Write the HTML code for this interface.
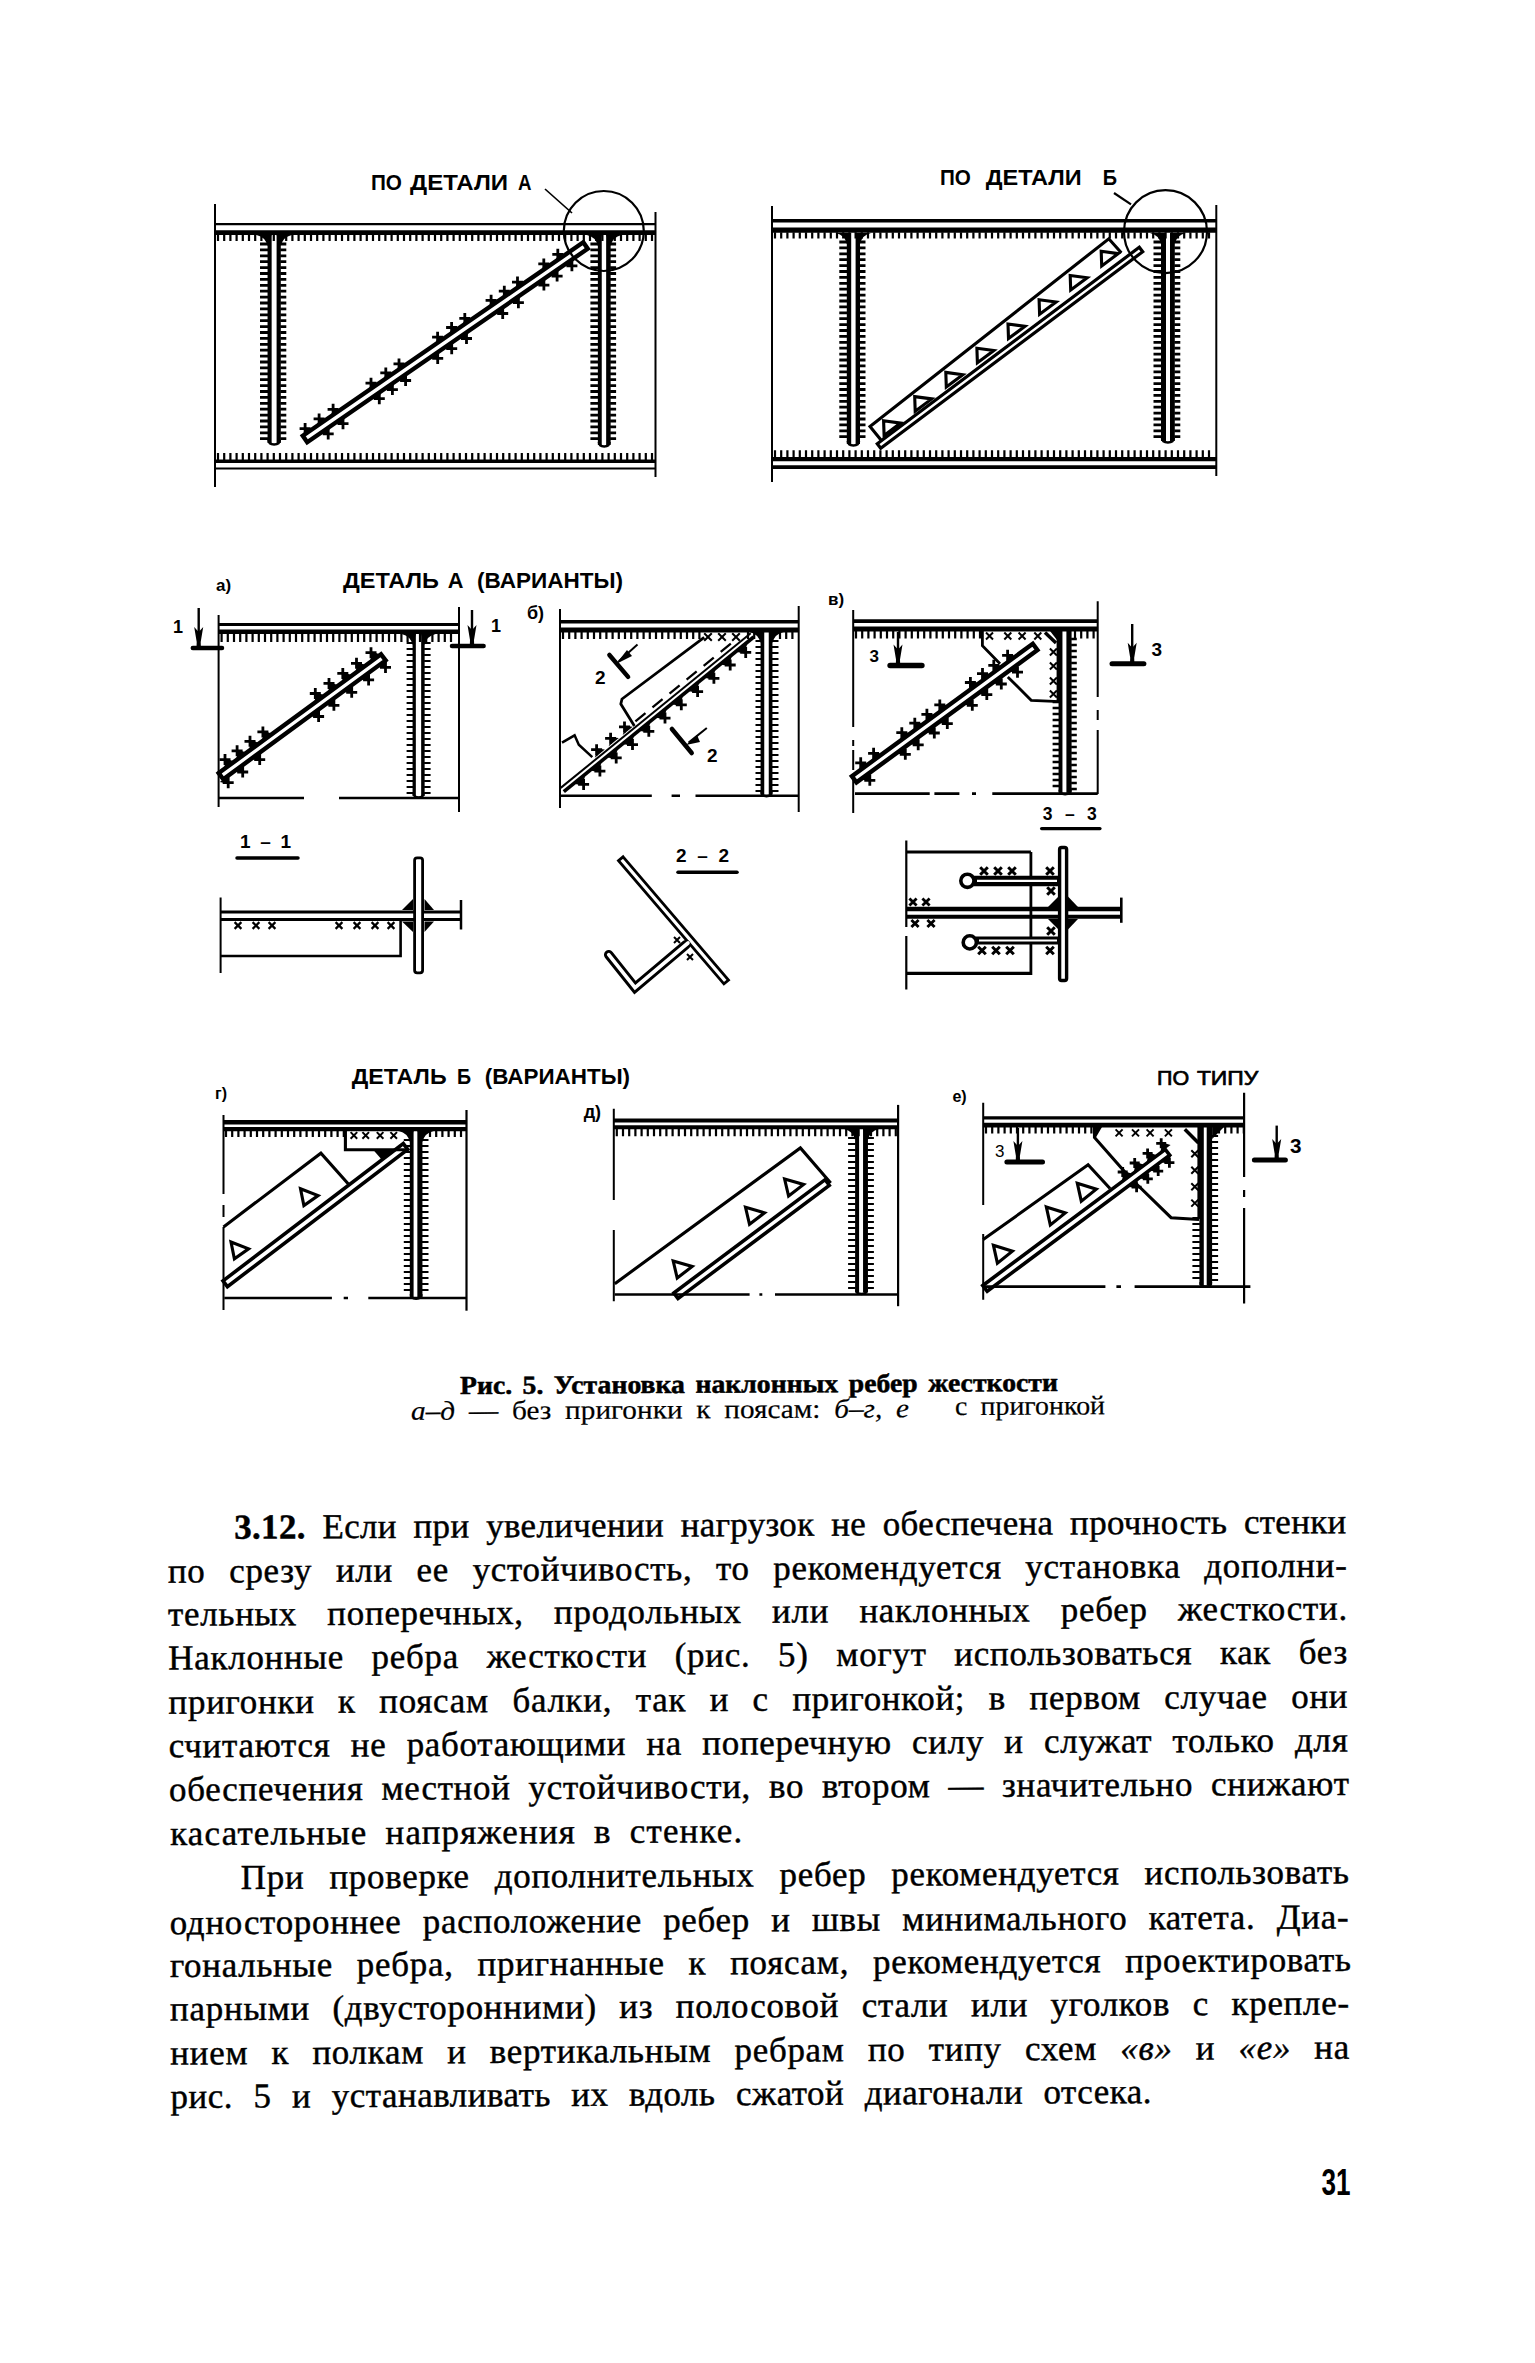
<!DOCTYPE html>
<html><head><meta charset="utf-8"><style>
html,body{margin:0;padding:0;background:#fff;}
svg{display:block;}
</style></head><body>
<svg width="1535" height="2363" viewBox="0 0 1535 2363">
<rect width="1535" height="2363" fill="#fff"/>
<g stroke="#000" fill="none">
<path d="M215,204V487" stroke-width="2"/>
<path d="M655.5,212V477" stroke-width="2"/>
<line x1="215" y1="224.2" x2="655.5" y2="224.2" stroke-width="2.3" stroke-linecap="butt"/>
<line x1="215" y1="232.6" x2="655.5" y2="232.6" stroke-width="4.8" stroke-linecap="butt"/>
<path d="M218,234.5v6.5M224.2,234.5v6.5M230.4,234.5v6.5M236.6,234.5v6.5M242.8,234.5v6.5M249,234.5v6.5M255.2,234.5v6.5M261.4,234.5v6.5M267.6,234.5v6.5M273.8,234.5v6.5M280,234.5v6.5M286.2,234.5v6.5M292.4,234.5v6.5M298.6,234.5v6.5M304.8,234.5v6.5M311,234.5v6.5M317.2,234.5v6.5M323.4,234.5v6.5M329.6,234.5v6.5M335.8,234.5v6.5M342,234.5v6.5M348.2,234.5v6.5M354.4,234.5v6.5M360.6,234.5v6.5M366.8,234.5v6.5M373,234.5v6.5M379.2,234.5v6.5M385.4,234.5v6.5M391.6,234.5v6.5M397.8,234.5v6.5M404,234.5v6.5M410.2,234.5v6.5M416.4,234.5v6.5M422.6,234.5v6.5M428.8,234.5v6.5M435,234.5v6.5M441.2,234.5v6.5M447.4,234.5v6.5M453.6,234.5v6.5M459.8,234.5v6.5M466,234.5v6.5M472.2,234.5v6.5M478.4,234.5v6.5M484.6,234.5v6.5M490.8,234.5v6.5M497,234.5v6.5M503.2,234.5v6.5M509.4,234.5v6.5M515.6,234.5v6.5M521.8,234.5v6.5M528,234.5v6.5M534.2,234.5v6.5M540.4,234.5v6.5M546.6,234.5v6.5M552.8,234.5v6.5M559,234.5v6.5M565.2,234.5v6.5M571.4,234.5v6.5M577.6,234.5v6.5M583.8,234.5v6.5M590,234.5v6.5M596.2,234.5v6.5M602.4,234.5v6.5M608.6,234.5v6.5M614.8,234.5v6.5M621,234.5v6.5M627.2,234.5v6.5M633.4,234.5v6.5M639.6,234.5v6.5M645.8,234.5v6.5M652,234.5v6.5" stroke-width="2.2"/>
<line x1="215" y1="468.6" x2="655.5" y2="468.6" stroke-width="2" stroke-linecap="butt"/>
<line x1="215" y1="461.3" x2="655.5" y2="461.3" stroke-width="3.4" stroke-linecap="butt"/>
<path d="M218,460.1v-7.1M224.2,460.1v-7.1M230.4,460.1v-7.1M236.6,460.1v-7.1M242.8,460.1v-7.1M249,460.1v-7.1M255.2,460.1v-7.1M261.4,460.1v-7.1M267.6,460.1v-7.1M273.8,460.1v-7.1M280,460.1v-7.1M286.2,460.1v-7.1M292.4,460.1v-7.1M298.6,460.1v-7.1M304.8,460.1v-7.1M311,460.1v-7.1M317.2,460.1v-7.1M323.4,460.1v-7.1M329.6,460.1v-7.1M335.8,460.1v-7.1M342,460.1v-7.1M348.2,460.1v-7.1M354.4,460.1v-7.1M360.6,460.1v-7.1M366.8,460.1v-7.1M373,460.1v-7.1M379.2,460.1v-7.1M385.4,460.1v-7.1M391.6,460.1v-7.1M397.8,460.1v-7.1M404,460.1v-7.1M410.2,460.1v-7.1M416.4,460.1v-7.1M422.6,460.1v-7.1M428.8,460.1v-7.1M435,460.1v-7.1M441.2,460.1v-7.1M447.4,460.1v-7.1M453.6,460.1v-7.1M459.8,460.1v-7.1M466,460.1v-7.1M472.2,460.1v-7.1M478.4,460.1v-7.1M484.6,460.1v-7.1M490.8,460.1v-7.1M497,460.1v-7.1M503.2,460.1v-7.1M509.4,460.1v-7.1M515.6,460.1v-7.1M521.8,460.1v-7.1M528,460.1v-7.1M534.2,460.1v-7.1M540.4,460.1v-7.1M546.6,460.1v-7.1M552.8,460.1v-7.1M559,460.1v-7.1M565.2,460.1v-7.1M571.4,460.1v-7.1M577.6,460.1v-7.1M583.8,460.1v-7.1M590,460.1v-7.1M596.2,460.1v-7.1M602.4,460.1v-7.1M608.6,460.1v-7.1M614.8,460.1v-7.1M621,460.1v-7.1M627.2,460.1v-7.1M633.4,460.1v-7.1M639.6,460.1v-7.1M645.8,460.1v-7.1M652,460.1v-7.1" stroke-width="2.2"/>
<line x1="269.6" y1="235" x2="269.6" y2="443" stroke-width="4.1" stroke-linecap="butt"/>
<line x1="278.7" y1="235" x2="278.7" y2="443" stroke-width="4.2" stroke-linecap="butt"/>
<path d="M268.5,440 Q268.5,444.5 274.1,444.5 Q279.8,444.5 279.8,440" stroke-width="2.4" fill="none"/>
<path d="M268,244h-8M268,249.9h-8M268,255.8h-8M268,261.7h-8M268,267.6h-8M268,273.5h-8M268,279.4h-8M268,285.3h-8M268,291.2h-8M268,297.1h-8M268,303h-8M268,308.9h-8M268,314.8h-8M268,320.7h-8M268,326.6h-8M268,332.5h-8M268,338.4h-8M268,344.3h-8M268,350.2h-8M268,356.1h-8M268,362h-8M268,367.9h-8M268,373.8h-8M268,379.7h-8M268,385.6h-8M268,391.5h-8M268,397.4h-8M268,403.3h-8M268,409.2h-8M268,415.1h-8M268,421h-8M268,426.9h-8M268,432.8h-8M268,438.7h-8" stroke-width="2.8"/>
<path d="M280.3,244h6M280.3,249.9h6M280.3,255.8h6M280.3,261.7h6M280.3,267.6h6M280.3,273.5h6M280.3,279.4h6M280.3,285.3h6M280.3,291.2h6M280.3,297.1h6M280.3,303h6M280.3,308.9h6M280.3,314.8h6M280.3,320.7h6M280.3,326.6h6M280.3,332.5h6M280.3,338.4h6M280.3,344.3h6M280.3,350.2h6M280.3,356.1h6M280.3,362h6M280.3,367.9h6M280.3,373.8h6M280.3,379.7h6M280.3,385.6h6M280.3,391.5h6M280.3,397.4h6M280.3,403.3h6M280.3,409.2h6M280.3,415.1h6M280.3,421h6M280.3,426.9h6M280.3,432.8h6M280.3,438.7h6" stroke-width="2.8"/>
<path d="M256.5,235 Q265.5,237 267.5,246 L271.6,235 Z" stroke="none" fill="#000"/>
<path d="M291.8,235 Q282.8,237 280.8,246 L276.6,235 Z" stroke="none" fill="#000"/>
<line x1="599.8" y1="235" x2="599.8" y2="445" stroke-width="3.9" stroke-linecap="butt"/>
<line x1="608.4" y1="235" x2="608.4" y2="445" stroke-width="4.5" stroke-linecap="butt"/>
<path d="M598.9,442 Q598.9,446.5 604.2,446.5 Q609.6,446.5 609.6,442" stroke-width="2.4" fill="none"/>
<path d="M598.4,244h-8M598.4,249.9h-8M598.4,255.8h-8M598.4,261.7h-8M598.4,267.6h-8M598.4,273.5h-8M598.4,279.4h-8M598.4,285.3h-8M598.4,291.2h-8M598.4,297.1h-8M598.4,303h-8M598.4,308.9h-8M598.4,314.8h-8M598.4,320.7h-8M598.4,326.6h-8M598.4,332.5h-8M598.4,338.4h-8M598.4,344.3h-8M598.4,350.2h-8M598.4,356.1h-8M598.4,362h-8M598.4,367.9h-8M598.4,373.8h-8M598.4,379.7h-8M598.4,385.6h-8M598.4,391.5h-8M598.4,397.4h-8M598.4,403.3h-8M598.4,409.2h-8M598.4,415.1h-8M598.4,421h-8M598.4,426.9h-8M598.4,432.8h-8M598.4,438.7h-8" stroke-width="2.8"/>
<path d="M610.1,244h6M610.1,249.9h6M610.1,255.8h6M610.1,261.7h6M610.1,267.6h6M610.1,273.5h6M610.1,279.4h6M610.1,285.3h6M610.1,291.2h6M610.1,297.1h6M610.1,303h6M610.1,308.9h6M610.1,314.8h6M610.1,320.7h6M610.1,326.6h6M610.1,332.5h6M610.1,338.4h6M610.1,344.3h6M610.1,350.2h6M610.1,356.1h6M610.1,362h6M610.1,367.9h6M610.1,373.8h6M610.1,379.7h6M610.1,385.6h6M610.1,391.5h6M610.1,397.4h6M610.1,403.3h6M610.1,409.2h6M610.1,415.1h6M610.1,421h6M610.1,426.9h6M610.1,432.8h6M610.1,438.7h6" stroke-width="2.8"/>
<path d="M586.9,235 Q595.9,237 597.9,246 L601.8,235 Z" stroke="none" fill="#000"/>
<path d="M621.6,235 Q612.6,237 610.6,246 L606.1,235 Z" stroke="none" fill="#000"/>
<circle cx="603.8" cy="231" r="40" stroke-width="2.2" fill="none"/>
<line x1="545" y1="189" x2="572" y2="213" stroke-width="1.6" stroke-linecap="butt"/>
<text x="370.9" y="189.7" font-family="Liberation Sans" font-size="21.5" font-weight="bold" font-style="normal" text-anchor="start" textLength="31" lengthAdjust="spacingAndGlyphs" stroke="none" fill="#000" >ПО</text>
<text x="410.1" y="189.7" font-family="Liberation Sans" font-size="21.5" font-weight="bold" font-style="normal" text-anchor="start" textLength="98" lengthAdjust="spacingAndGlyphs" stroke="none" fill="#000" >ДЕТАЛИ</text>
<text x="518" y="189.7" font-family="Liberation Sans" font-size="21.5" font-weight="bold" font-style="normal" text-anchor="start" textLength="13.5" lengthAdjust="spacingAndGlyphs" stroke="none" fill="#000" >А</text>
<path d="M302.8,435.8 L583.3,242.3 L587.7,248.7 L307.2,442.2 Z" stroke-width="4.4" fill="none" stroke-linejoin="miter" stroke-linecap="butt"/>
<path d="M299.6,428.6h11M305.1,423.1v11" stroke-width="2.8"/>
<path d="M302.3,436 L313,428.6 L306.3,427.7 Z" stroke="none" fill="#000"/>
<path d="M313.6,418.9h11M319.1,413.4v11" stroke-width="2.8"/>
<path d="M316.3,426.3 L327,419 L320.3,418.1 Z" stroke="none" fill="#000"/>
<path d="M327.6,409.3h11M333.1,403.8v11" stroke-width="2.8"/>
<path d="M330.3,416.7 L341,409.3 L334.3,408.4 Z" stroke="none" fill="#000"/>
<path d="M365.5,383.2h11M371,377.7v11" stroke-width="2.8"/>
<path d="M368.2,390.6 L378.9,383.2 L372.2,382.3 Z" stroke="none" fill="#000"/>
<path d="M380.3,372.9h11M385.8,367.4v11" stroke-width="2.8"/>
<path d="M383,380.3 L393.7,373 L387,372.1 Z" stroke="none" fill="#000"/>
<path d="M393.5,363.9h11M399,358.4v11" stroke-width="2.8"/>
<path d="M396.2,371.3 L406.9,363.9 L400.2,363 Z" stroke="none" fill="#000"/>
<path d="M432.1,337.2h11M437.6,331.7v11" stroke-width="2.8"/>
<path d="M434.8,344.6 L445.5,337.2 L438.9,336.3 Z" stroke="none" fill="#000"/>
<path d="M446.1,327.5h11M451.6,322v11" stroke-width="2.8"/>
<path d="M448.8,334.9 L459.5,327.5 L452.9,326.7 Z" stroke="none" fill="#000"/>
<path d="M459.3,318.4h11M464.8,312.9v11" stroke-width="2.8"/>
<path d="M462,325.8 L472.7,318.4 L466,317.6 Z" stroke="none" fill="#000"/>
<path d="M485.6,300.3h11M491.1,294.8v11" stroke-width="2.8"/>
<path d="M488.3,307.7 L499,300.3 L492.4,299.4 Z" stroke="none" fill="#000"/>
<path d="M498.8,291.2h11M504.3,285.7v11" stroke-width="2.8"/>
<path d="M501.5,298.6 L512.2,291.2 L505.5,290.3 Z" stroke="none" fill="#000"/>
<path d="M512,282.1h11M517.5,276.6v11" stroke-width="2.8"/>
<path d="M514.7,289.5 L525.4,282.1 L518.7,281.2 Z" stroke="none" fill="#000"/>
<path d="M538.3,263.9h11M543.8,258.4v11" stroke-width="2.8"/>
<path d="M541,271.3 L551.7,263.9 L545.1,263.1 Z" stroke="none" fill="#000"/>
<path d="M552.3,254.3h11M557.8,248.8v11" stroke-width="2.8"/>
<path d="M555,261.7 L565.7,254.3 L559.1,253.4 Z" stroke="none" fill="#000"/>
<path d="M322.7,433.9h11M328.2,428.4v11" stroke-width="2.8"/>
<path d="M320,433.5 L330.7,426.1 L327,434.8 Z" stroke="none" fill="#000"/>
<path d="M337.5,423.7h11M343,418.2v11" stroke-width="2.8"/>
<path d="M334.8,423.3 L345.5,415.9 L341.8,424.5 Z" stroke="none" fill="#000"/>
<path d="M373.8,398.7h11M379.3,393.2v11" stroke-width="2.8"/>
<path d="M371.1,398.3 L381.8,390.9 L378,399.6 Z" stroke="none" fill="#000"/>
<path d="M386.9,389.6h11M392.4,384.1v11" stroke-width="2.8"/>
<path d="M384.2,389.2 L394.9,381.8 L391.2,390.5 Z" stroke="none" fill="#000"/>
<path d="M400.1,380.5h11M405.6,375v11" stroke-width="2.8"/>
<path d="M397.4,380.1 L408.1,372.7 L404.4,381.4 Z" stroke="none" fill="#000"/>
<path d="M432.2,358.4h11M437.7,352.9v11" stroke-width="2.8"/>
<path d="M429.5,358 L440.2,350.6 L436.5,359.2 Z" stroke="none" fill="#000"/>
<path d="M446.2,348.7h11M451.7,343.2v11" stroke-width="2.8"/>
<path d="M443.5,348.3 L454.2,340.9 L450.5,349.6 Z" stroke="none" fill="#000"/>
<path d="M461,338.5h11M466.5,333v11" stroke-width="2.8"/>
<path d="M458.3,338.1 L469,330.7 L465.3,339.4 Z" stroke="none" fill="#000"/>
<path d="M497.2,313.5h11M502.7,308v11" stroke-width="2.8"/>
<path d="M494.5,313.1 L505.2,305.7 L501.5,314.4 Z" stroke="none" fill="#000"/>
<path d="M512.9,302.7h11M518.4,297.2v11" stroke-width="2.8"/>
<path d="M510.2,302.3 L520.9,294.9 L517.1,303.6 Z" stroke="none" fill="#000"/>
<path d="M538.4,285.1h11M543.9,279.6v11" stroke-width="2.8"/>
<path d="M535.7,284.7 L546.4,277.3 L542.6,286 Z" stroke="none" fill="#000"/>
<path d="M551.6,276.1h11M557.1,270.6v11" stroke-width="2.8"/>
<path d="M548.9,275.6 L559.6,268.3 L555.8,276.9 Z" stroke="none" fill="#000"/>
<path d="M566.4,265.8h11M571.9,260.3v11" stroke-width="2.8"/>
<path d="M563.7,265.4 L574.4,258 L570.6,266.7 Z" stroke="none" fill="#000"/>
<path d="M772,206V482" stroke-width="2"/>
<path d="M1216.3,205V476" stroke-width="2"/>
<line x1="772" y1="220.8" x2="1216.3" y2="220.8" stroke-width="3.5" stroke-linecap="butt"/>
<line x1="772" y1="230.1" x2="1216.3" y2="230.1" stroke-width="5.4" stroke-linecap="butt"/>
<path d="M775,232.3v6.3M781.2,232.3v6.3M787.4,232.3v6.3M793.6,232.3v6.3M799.8,232.3v6.3M806,232.3v6.3M812.2,232.3v6.3M818.4,232.3v6.3M824.6,232.3v6.3M830.8,232.3v6.3M837,232.3v6.3M843.2,232.3v6.3M849.4,232.3v6.3M855.6,232.3v6.3M861.8,232.3v6.3M868,232.3v6.3M874.2,232.3v6.3M880.4,232.3v6.3M886.6,232.3v6.3M892.8,232.3v6.3M899,232.3v6.3M905.2,232.3v6.3M911.4,232.3v6.3M917.6,232.3v6.3M923.8,232.3v6.3M930,232.3v6.3M936.2,232.3v6.3M942.4,232.3v6.3M948.6,232.3v6.3M954.8,232.3v6.3M961,232.3v6.3M967.2,232.3v6.3M973.4,232.3v6.3M979.6,232.3v6.3M985.8,232.3v6.3M992,232.3v6.3M998.2,232.3v6.3M1004.4,232.3v6.3M1010.6,232.3v6.3M1016.8,232.3v6.3M1023,232.3v6.3M1029.2,232.3v6.3M1035.4,232.3v6.3M1041.6,232.3v6.3M1047.8,232.3v6.3M1054,232.3v6.3M1060.2,232.3v6.3M1066.4,232.3v6.3M1072.6,232.3v6.3M1078.8,232.3v6.3M1085,232.3v6.3M1091.2,232.3v6.3M1097.4,232.3v6.3M1103.6,232.3v6.3M1109.8,232.3v6.3M1116,232.3v6.3M1122.2,232.3v6.3M1128.4,232.3v6.3M1134.6,232.3v6.3M1140.8,232.3v6.3M1147,232.3v6.3M1153.2,232.3v6.3M1159.4,232.3v6.3M1165.6,232.3v6.3M1171.8,232.3v6.3M1178,232.3v6.3M1184.2,232.3v6.3M1190.4,232.3v6.3M1196.6,232.3v6.3M1202.8,232.3v6.3M1209,232.3v6.3" stroke-width="2.2"/>
<line x1="772" y1="467.1" x2="1216.3" y2="467.1" stroke-width="3.7" stroke-linecap="butt"/>
<line x1="772" y1="459.1" x2="1216.3" y2="459.1" stroke-width="4.2" stroke-linecap="butt"/>
<path d="M775,457.5v-7.3M781.2,457.5v-7.3M787.4,457.5v-7.3M793.6,457.5v-7.3M799.8,457.5v-7.3M806,457.5v-7.3M812.2,457.5v-7.3M818.4,457.5v-7.3M824.6,457.5v-7.3M830.8,457.5v-7.3M837,457.5v-7.3M843.2,457.5v-7.3M849.4,457.5v-7.3M855.6,457.5v-7.3M861.8,457.5v-7.3M868,457.5v-7.3M874.2,457.5v-7.3M880.4,457.5v-7.3M886.6,457.5v-7.3M892.8,457.5v-7.3M899,457.5v-7.3M905.2,457.5v-7.3M911.4,457.5v-7.3M917.6,457.5v-7.3M923.8,457.5v-7.3M930,457.5v-7.3M936.2,457.5v-7.3M942.4,457.5v-7.3M948.6,457.5v-7.3M954.8,457.5v-7.3M961,457.5v-7.3M967.2,457.5v-7.3M973.4,457.5v-7.3M979.6,457.5v-7.3M985.8,457.5v-7.3M992,457.5v-7.3M998.2,457.5v-7.3M1004.4,457.5v-7.3M1010.6,457.5v-7.3M1016.8,457.5v-7.3M1023,457.5v-7.3M1029.2,457.5v-7.3M1035.4,457.5v-7.3M1041.6,457.5v-7.3M1047.8,457.5v-7.3M1054,457.5v-7.3M1060.2,457.5v-7.3M1066.4,457.5v-7.3M1072.6,457.5v-7.3M1078.8,457.5v-7.3M1085,457.5v-7.3M1091.2,457.5v-7.3M1097.4,457.5v-7.3M1103.6,457.5v-7.3M1109.8,457.5v-7.3M1116,457.5v-7.3M1122.2,457.5v-7.3M1128.4,457.5v-7.3M1134.6,457.5v-7.3M1140.8,457.5v-7.3M1147,457.5v-7.3M1153.2,457.5v-7.3M1159.4,457.5v-7.3M1165.6,457.5v-7.3M1171.8,457.5v-7.3M1178,457.5v-7.3M1184.2,457.5v-7.3M1190.4,457.5v-7.3M1196.6,457.5v-7.3M1202.8,457.5v-7.3M1209,457.5v-7.3" stroke-width="2.2"/>
<line x1="849" y1="233" x2="849" y2="444" stroke-width="4.4" stroke-linecap="butt"/>
<line x1="857.8" y1="233" x2="857.8" y2="444" stroke-width="4.4" stroke-linecap="butt"/>
<path d="M847.8,441 Q847.8,445.5 853.4,445.5 Q859,445.5 859,441" stroke-width="2.4" fill="none"/>
<path d="M847.3,242h-8M847.3,247.9h-8M847.3,253.8h-8M847.3,259.7h-8M847.3,265.6h-8M847.3,271.5h-8M847.3,277.4h-8M847.3,283.3h-8M847.3,289.2h-8M847.3,295.1h-8M847.3,301h-8M847.3,306.9h-8M847.3,312.8h-8M847.3,318.7h-8M847.3,324.6h-8M847.3,330.5h-8M847.3,336.4h-8M847.3,342.3h-8M847.3,348.2h-8M847.3,354.1h-8M847.3,360h-8M847.3,365.9h-8M847.3,371.8h-8M847.3,377.7h-8M847.3,383.6h-8M847.3,389.5h-8M847.3,395.4h-8M847.3,401.3h-8M847.3,407.2h-8M847.3,413.1h-8M847.3,419h-8M847.3,424.9h-8M847.3,430.8h-8M847.3,436.7h-8" stroke-width="2.8"/>
<path d="M859.5,242h6M859.5,247.9h6M859.5,253.8h6M859.5,259.7h6M859.5,265.6h6M859.5,271.5h6M859.5,277.4h6M859.5,283.3h6M859.5,289.2h6M859.5,295.1h6M859.5,301h6M859.5,306.9h6M859.5,312.8h6M859.5,318.7h6M859.5,324.6h6M859.5,330.5h6M859.5,336.4h6M859.5,342.3h6M859.5,348.2h6M859.5,354.1h6M859.5,360h6M859.5,365.9h6M859.5,371.8h6M859.5,377.7h6M859.5,383.6h6M859.5,389.5h6M859.5,395.4h6M859.5,401.3h6M859.5,407.2h6M859.5,413.1h6M859.5,419h6M859.5,424.9h6M859.5,430.8h6M859.5,436.7h6" stroke-width="2.8"/>
<path d="M835.8,233 Q844.8,235 846.8,244 L851.2,233 Z" stroke="none" fill="#000"/>
<path d="M871,233 Q862,235 860,244 L855.6,233 Z" stroke="none" fill="#000"/>
<line x1="1163.5" y1="233" x2="1163.5" y2="441" stroke-width="5" stroke-linecap="butt"/>
<line x1="1172.4" y1="233" x2="1172.4" y2="441" stroke-width="4.8" stroke-linecap="butt"/>
<path d="M1162,438 Q1162,442.5 1167.9,442.5 Q1173.8,442.5 1173.8,438" stroke-width="2.4" fill="none"/>
<path d="M1161.5,242h-8M1161.5,247.9h-8M1161.5,253.8h-8M1161.5,259.7h-8M1161.5,265.6h-8M1161.5,271.5h-8M1161.5,277.4h-8M1161.5,283.3h-8M1161.5,289.2h-8M1161.5,295.1h-8M1161.5,301h-8M1161.5,306.9h-8M1161.5,312.8h-8M1161.5,318.7h-8M1161.5,324.6h-8M1161.5,330.5h-8M1161.5,336.4h-8M1161.5,342.3h-8M1161.5,348.2h-8M1161.5,354.1h-8M1161.5,360h-8M1161.5,365.9h-8M1161.5,371.8h-8M1161.5,377.7h-8M1161.5,383.6h-8M1161.5,389.5h-8M1161.5,395.4h-8M1161.5,401.3h-8M1161.5,407.2h-8M1161.5,413.1h-8M1161.5,419h-8M1161.5,424.9h-8M1161.5,430.8h-8M1161.5,436.7h-8" stroke-width="2.8"/>
<path d="M1174.3,242h6M1174.3,247.9h6M1174.3,253.8h6M1174.3,259.7h6M1174.3,265.6h6M1174.3,271.5h6M1174.3,277.4h6M1174.3,283.3h6M1174.3,289.2h6M1174.3,295.1h6M1174.3,301h6M1174.3,306.9h6M1174.3,312.8h6M1174.3,318.7h6M1174.3,324.6h6M1174.3,330.5h6M1174.3,336.4h6M1174.3,342.3h6M1174.3,348.2h6M1174.3,354.1h6M1174.3,360h6M1174.3,365.9h6M1174.3,371.8h6M1174.3,377.7h6M1174.3,383.6h6M1174.3,389.5h6M1174.3,395.4h6M1174.3,401.3h6M1174.3,407.2h6M1174.3,413.1h6M1174.3,419h6M1174.3,424.9h6M1174.3,430.8h6M1174.3,436.7h6" stroke-width="2.8"/>
<path d="M1150,233 Q1159,235 1161,244 L1166,233 Z" stroke="none" fill="#000"/>
<path d="M1185.8,233 Q1176.8,235 1174.8,244 L1170,233 Z" stroke="none" fill="#000"/>
<circle cx="1165.5" cy="231.7" r="41.5" stroke-width="2.2" fill="none"/>
<line x1="1114" y1="193" x2="1131" y2="204.4" stroke-width="2.2" stroke-linecap="butt"/>
<text x="940" y="185" font-family="Liberation Sans" font-size="21.5" font-weight="bold" font-style="normal" text-anchor="start" textLength="30.9" lengthAdjust="spacingAndGlyphs" stroke="none" fill="#000" >ПО</text>
<text x="985.7" y="185" font-family="Liberation Sans" font-size="21.5" font-weight="bold" font-style="normal" text-anchor="start" textLength="96" lengthAdjust="spacingAndGlyphs" stroke="none" fill="#000" >ДЕТАЛИ</text>
<text x="1102.7" y="185" font-family="Liberation Sans" font-size="21.5" font-weight="bold" font-style="normal" text-anchor="start" textLength="14.3" lengthAdjust="spacingAndGlyphs" stroke="none" fill="#000" >Б</text>
<path d="M877.3,443.8 L1139.3,247.3 L1142.7,251.7 L880.7,448.2 Z" stroke-width="3.2" fill="none" stroke-linejoin="miter" stroke-linecap="butt"/>
<path d="M881,440 L870,426.5 L1108.8,238.8 L1121.3,252.8" stroke-width="3.1" fill="none" stroke-linejoin="miter" stroke-linecap="butt"/>
<path d="M883.6,420.8 L900.6,423.1 L884.1,435.4 Z" stroke-width="3.1" fill="none" stroke-linejoin="miter" stroke-linecap="butt"/>
<path d="M914.7,396.6 L931.7,398.9 L915.2,411.2 Z" stroke-width="3.1" fill="none" stroke-linejoin="miter" stroke-linecap="butt"/>
<path d="M945.8,372.4 L962.8,374.7 L946.3,387 Z" stroke-width="3.1" fill="none" stroke-linejoin="miter" stroke-linecap="butt"/>
<path d="M976.9,348.2 L993.9,350.5 L977.4,362.8 Z" stroke-width="3.1" fill="none" stroke-linejoin="miter" stroke-linecap="butt"/>
<path d="M1008,324 L1025,326.3 L1008.5,338.6 Z" stroke-width="3.1" fill="none" stroke-linejoin="miter" stroke-linecap="butt"/>
<path d="M1039.1,299.7 L1056.1,302 L1039.6,314.3 Z" stroke-width="3.1" fill="none" stroke-linejoin="miter" stroke-linecap="butt"/>
<path d="M1070.2,275.5 L1087.2,277.8 L1070.7,290.1 Z" stroke-width="3.1" fill="none" stroke-linejoin="miter" stroke-linecap="butt"/>
<path d="M1101.2,251.3 L1118.2,253.6 L1101.7,265.9 Z" stroke-width="3.1" fill="none" stroke-linejoin="miter" stroke-linecap="butt"/>
<text x="216" y="590.5" font-family="Liberation Sans" font-size="17" font-weight="bold" font-style="normal" text-anchor="start" stroke="none" fill="#000" >а)</text>
<path d="M218.6,615V807" stroke-width="2"/>
<path d="M459,607V812" stroke-width="2"/>
<line x1="218.6" y1="624.5" x2="459" y2="624.5" stroke-width="3" stroke-linecap="butt"/>
<line x1="218.6" y1="631.8" x2="459" y2="631.8" stroke-width="4.5" stroke-linecap="butt"/>
<path d="M221.6,633.5v8.5M227.8,633.5v8.5M234,633.5v8.5M240.2,633.5v8.5M246.4,633.5v8.5M252.6,633.5v8.5M258.8,633.5v8.5M265,633.5v8.5M271.2,633.5v8.5M277.4,633.5v8.5M283.6,633.5v8.5M289.8,633.5v8.5M296,633.5v8.5M302.2,633.5v8.5M308.4,633.5v8.5M314.6,633.5v8.5M320.8,633.5v8.5M327,633.5v8.5M333.2,633.5v8.5M339.4,633.5v8.5M345.6,633.5v8.5M351.8,633.5v8.5M358,633.5v8.5M364.2,633.5v8.5M370.4,633.5v8.5M376.6,633.5v8.5M382.8,633.5v8.5M389,633.5v8.5M395.2,633.5v8.5M401.4,633.5v8.5M407.6,633.5v8.5M413.8,633.5v8.5M420,633.5v8.5M426.2,633.5v8.5M432.4,633.5v8.5M438.6,633.5v8.5M444.8,633.5v8.5M451,633.5v8.5" stroke-width="2.2"/>
<line x1="414.2" y1="634" x2="414.2" y2="796" stroke-width="3.3" stroke-linecap="butt"/>
<line x1="422.9" y1="634" x2="422.9" y2="796" stroke-width="3.5" stroke-linecap="butt"/>
<path d="M413.6,793 Q413.6,797.5 418.6,797.5 Q423.6,797.5 423.6,793" stroke-width="2.4" fill="none"/>
<path d="M413.1,643h-6.5M413.1,649h-6.5M413.1,655h-6.5M413.1,661h-6.5M413.1,667h-6.5M413.1,673h-6.5M413.1,679h-6.5M413.1,685h-6.5M413.1,691h-6.5M413.1,697h-6.5M413.1,703h-6.5M413.1,709h-6.5M413.1,715h-6.5M413.1,721h-6.5M413.1,727h-6.5M413.1,733h-6.5M413.1,739h-6.5M413.1,745h-6.5M413.1,751h-6.5M413.1,757h-6.5M413.1,763h-6.5M413.1,769h-6.5M413.1,775h-6.5M413.1,781h-6.5M413.1,787h-6.5M413.1,793h-6.5" stroke-width="2.1"/>
<path d="M424.1,643h6.5M424.1,649h6.5M424.1,655h6.5M424.1,661h6.5M424.1,667h6.5M424.1,673h6.5M424.1,679h6.5M424.1,685h6.5M424.1,691h6.5M424.1,697h6.5M424.1,703h6.5M424.1,709h6.5M424.1,715h6.5M424.1,721h6.5M424.1,727h6.5M424.1,733h6.5M424.1,739h6.5M424.1,745h6.5M424.1,751h6.5M424.1,757h6.5M424.1,763h6.5M424.1,769h6.5M424.1,775h6.5M424.1,781h6.5M424.1,787h6.5M424.1,793h6.5" stroke-width="2.1"/>
<path d="M401.6,634 Q410.6,636 412.6,645 L415.9,634 Z" stroke="none" fill="#000"/>
<path d="M435.6,634 Q426.6,636 424.6,645 L421.1,634 Z" stroke="none" fill="#000"/>
<path d="M218.6,798H304M339,798H459" stroke-width="2.5"/>
<text x="173" y="633" font-family="Liberation Sans" font-size="18" font-weight="bold" font-style="normal" text-anchor="start" stroke="none" fill="#000" >1</text>
<line x1="198.7" y1="608" x2="198.7" y2="648" stroke-width="2.4" stroke-linecap="butt"/>
<path d="M194.2,627 L198.7,632 L203.2,627 L200.7,642 L200.9,648 L196.5,648 L196.7,642 Z" stroke="none" fill="#000"/>
<line x1="192.8" y1="648" x2="222" y2="648" stroke-width="4.5" stroke-linecap="round"/>
<line x1="472" y1="610" x2="472" y2="646" stroke-width="2.4" stroke-linecap="butt"/>
<path d="M467.5,625 L472,630 L476.5,625 L474,640 L474.2,646 L469.8,646 L470,640 Z" stroke="none" fill="#000"/>
<line x1="452" y1="646" x2="483.6" y2="646" stroke-width="4.5" stroke-linecap="round"/>
<text x="491" y="631.5" font-family="Liberation Sans" font-size="18" font-weight="bold" font-style="normal" text-anchor="start" stroke="none" fill="#000" >1</text>
<path d="M218.7,773.1 L381,654.2 L385.6,660.4 L223.3,779.3 Z" stroke-width="4.4" fill="none" stroke-linejoin="miter" stroke-linecap="butt"/>
<path d="M219.5,759.6h11M225,754.1v11" stroke-width="2.8"/>
<path d="M223.9,769.1 L234.4,761.4 L226.2,758.8 Z" stroke="none" fill="#000"/>
<path d="M231.6,750.8h11M237.1,745.3v11" stroke-width="2.8"/>
<path d="M236,760.3 L246.5,752.6 L238.3,749.9 Z" stroke="none" fill="#000"/>
<path d="M244.5,741.3h11M250,735.8v11" stroke-width="2.8"/>
<path d="M248.9,750.8 L259.4,743.1 L251.2,740.4 Z" stroke="none" fill="#000"/>
<path d="M257.4,731.9h11M262.9,726.4v11" stroke-width="2.8"/>
<path d="M261.8,741.4 L272.3,733.7 L264.1,731 Z" stroke="none" fill="#000"/>
<path d="M309.8,693.5h11M315.3,688v11" stroke-width="2.8"/>
<path d="M314.2,702.9 L324.7,695.3 L316.5,692.6 Z" stroke="none" fill="#000"/>
<path d="M323.5,683.4h11M329,677.9v11" stroke-width="2.8"/>
<path d="M327.9,692.9 L338.4,685.2 L330.3,682.5 Z" stroke="none" fill="#000"/>
<path d="M337.3,673.4h11M342.8,667.9v11" stroke-width="2.8"/>
<path d="M341.7,682.8 L352.1,675.2 L344,672.5 Z" stroke="none" fill="#000"/>
<path d="M351,663.3h11M356.5,657.8v11" stroke-width="2.8"/>
<path d="M355.4,672.8 L365.9,665.1 L357.7,662.4 Z" stroke="none" fill="#000"/>
<path d="M365.5,652.7h11M371,647.2v11" stroke-width="2.8"/>
<path d="M369.9,662.2 L380.4,654.5 L372.2,651.8 Z" stroke="none" fill="#000"/>
<path d="M222.7,782.7h11M228.2,777.2v11" stroke-width="2.8"/>
<path d="M219.7,782.1 L230.2,774.4 L227,783.6 Z" stroke="none" fill="#000"/>
<path d="M237.2,772h11M242.7,766.5v11" stroke-width="2.8"/>
<path d="M234.3,771.4 L244.7,763.8 L241.5,772.9 Z" stroke="none" fill="#000"/>
<path d="M254.2,759.6h11M259.7,754.1v11" stroke-width="2.8"/>
<path d="M251.2,759 L261.7,751.4 L258.5,760.5 Z" stroke="none" fill="#000"/>
<path d="M313.1,716.5h11M318.6,711v11" stroke-width="2.8"/>
<path d="M310.1,715.9 L320.6,708.2 L317.4,717.4 Z" stroke="none" fill="#000"/>
<path d="M328.4,705.3h11M333.9,699.8v11" stroke-width="2.8"/>
<path d="M325.4,704.7 L335.9,697 L332.7,706.2 Z" stroke="none" fill="#000"/>
<path d="M346.2,692.3h11M351.7,686.8v11" stroke-width="2.8"/>
<path d="M343.2,691.7 L353.6,684 L350.4,693.1 Z" stroke="none" fill="#000"/>
<path d="M363.1,679.9h11M368.6,674.4v11" stroke-width="2.8"/>
<path d="M360.1,679.3 L370.6,671.6 L367.4,680.7 Z" stroke="none" fill="#000"/>
<path d="M380,667.4h11M385.5,661.9v11" stroke-width="2.8"/>
<path d="M377,666.8 L387.5,659.2 L384.3,668.3 Z" stroke="none" fill="#000"/>
<text x="527" y="618.6" font-family="Liberation Sans" font-size="18" font-weight="bold" font-style="normal" text-anchor="start" stroke="none" fill="#000" >б)</text>
<path d="M560,609V808" stroke-width="2"/>
<path d="M798.7,606V812" stroke-width="2"/>
<line x1="560" y1="621.8" x2="798.7" y2="621.8" stroke-width="3.5" stroke-linecap="butt"/>
<line x1="560" y1="630" x2="798.7" y2="630" stroke-width="5" stroke-linecap="butt"/>
<path d="M563,632v7M569.2,632v7M575.4,632v7M581.6,632v7M587.8,632v7M594,632v7M600.2,632v7M606.4,632v7M612.6,632v7M618.8,632v7M625,632v7M631.2,632v7M637.4,632v7M643.6,632v7M649.8,632v7M656,632v7M662.2,632v7M668.4,632v7M674.6,632v7M680.8,632v7M687,632v7M693.2,632v7M699.4,632v7" stroke-width="2.2"/>
<path d="M748,632v7M754.2,632v7" stroke-width="2.2"/>
<path d="M780,632v7M786.2,632v7M792.4,632v7" stroke-width="2.2"/>
<line x1="762.4" y1="632" x2="762.4" y2="794.7" stroke-width="3.7" stroke-linecap="butt"/>
<line x1="770.6" y1="632" x2="770.6" y2="794.7" stroke-width="3.7" stroke-linecap="butt"/>
<path d="M761.5,791.7 Q761.5,796.2 766.5,796.2 Q771.5,796.2 771.5,791.7" stroke-width="2.4" fill="none"/>
<path d="M761,641h-5.5M761,647h-5.5M761,653h-5.5M761,659h-5.5M761,665h-5.5M761,671h-5.5M761,677h-5.5M761,683h-5.5M761,689h-5.5M761,695h-5.5M761,701h-5.5M761,707h-5.5M761,713h-5.5M761,719h-5.5M761,725h-5.5M761,731h-5.5M761,737h-5.5M761,743h-5.5M761,749h-5.5M761,755h-5.5M761,761h-5.5M761,767h-5.5M761,773h-5.5M761,779h-5.5M761,785h-5.5M761,791h-5.5" stroke-width="2.1"/>
<path d="M772,641h6.5M772,647h6.5M772,653h6.5M772,659h6.5M772,665h6.5M772,671h6.5M772,677h6.5M772,683h6.5M772,689h6.5M772,695h6.5M772,701h6.5M772,707h6.5M772,713h6.5M772,719h6.5M772,725h6.5M772,731h6.5M772,737h6.5M772,743h6.5M772,749h6.5M772,755h6.5M772,761h6.5M772,767h6.5M772,773h6.5M772,779h6.5M772,785h6.5M772,791h6.5" stroke-width="2.1"/>
<path d="M749.5,632 Q758.5,634 760.5,643 L764.2,632 Z" stroke="none" fill="#000"/>
<path d="M783.5,632 Q774.5,634 772.5,643 L768.8,632 Z" stroke="none" fill="#000"/>
<path d="M560,795.8H651.8M671.6,795.8H680M695.5,795.8H798.7" stroke-width="2.5"/>
<path d="M563.8,791.7 L753.7,637" stroke-width="3.6" fill="none" stroke-linejoin="miter" stroke-linecap="butt"/>
<path d="M560.7,787.9 L750.7,633.2" stroke-width="2" fill="none" stroke-linejoin="miter" stroke-linecap="butt"/>
<path d="M578.1,784.4h11M583.6,778.9v11" stroke-width="2.8"/>
<path d="M575,784.1 L585.1,775.9 L582.5,785.3 Z" stroke="none" fill="#000"/>
<path d="M594.4,771.1h11M599.9,765.6v11" stroke-width="2.8"/>
<path d="M591.3,770.8 L601.4,762.6 L598.8,772.1 Z" stroke="none" fill="#000"/>
<path d="M610.7,757.9h11M616.2,752.4v11" stroke-width="2.8"/>
<path d="M607.6,757.6 L617.6,749.3 L615,758.8 Z" stroke="none" fill="#000"/>
<path d="M627,744.6h11M632.5,739.1v11" stroke-width="2.8"/>
<path d="M623.8,744.3 L633.9,736.1 L631.3,745.6 Z" stroke="none" fill="#000"/>
<path d="M643.3,731.3h11M648.8,725.8v11" stroke-width="2.8"/>
<path d="M640.1,731 L650.2,722.8 L647.6,732.3 Z" stroke="none" fill="#000"/>
<path d="M659.5,718.1h11M665,712.6v11" stroke-width="2.8"/>
<path d="M656.4,717.8 L666.5,709.6 L663.9,719 Z" stroke="none" fill="#000"/>
<path d="M675.8,704.8h11M681.3,699.3v11" stroke-width="2.8"/>
<path d="M672.7,704.5 L682.8,696.3 L680.2,705.8 Z" stroke="none" fill="#000"/>
<path d="M692.1,691.6h11M697.6,686.1v11" stroke-width="2.8"/>
<path d="M689,691.2 L699.1,683 L696.4,692.5 Z" stroke="none" fill="#000"/>
<path d="M708.4,678.3h11M713.9,672.8v11" stroke-width="2.8"/>
<path d="M705.3,678 L715.3,669.8 L712.7,679.2 Z" stroke="none" fill="#000"/>
<path d="M724.7,665h11M730.2,659.5v11" stroke-width="2.8"/>
<path d="M721.5,664.7 L731.6,656.5 L729,666 Z" stroke="none" fill="#000"/>
<path d="M740.2,652.4h11M745.7,646.9v11" stroke-width="2.8"/>
<path d="M737,652.1 L747.1,643.9 L744.5,653.4 Z" stroke="none" fill="#000"/>
<path d="M591.1,749.7h11M596.6,744.2v11" stroke-width="2.8"/>
<path d="M594.8,757.7 L604.8,749.5 L597.8,748.7 Z" stroke="none" fill="#000"/>
<path d="M605.1,738.3h11M610.6,732.8v11" stroke-width="2.8"/>
<path d="M608.7,746.3 L618.8,738.1 L611.8,737.4 Z" stroke="none" fill="#000"/>
<path d="M619,726.9h11M624.5,721.4v11" stroke-width="2.8"/>
<path d="M622.7,734.9 L632.7,726.7 L625.7,726 Z" stroke="none" fill="#000"/>
<path d="M704.2,637.3 L622,699 L620.8,704 L634.4,725.9" stroke-width="2.8" fill="none" stroke-linejoin="round" stroke-linecap="butt"/>
<path d="M562,742.6 L574.6,735.3 L578.8,744.7 L592.3,757.2" stroke-width="2.5" fill="none" stroke-linejoin="miter" stroke-linecap="butt"/>
<line x1="635.4" y1="721.3" x2="737.8" y2="638" stroke-width="2.3" stroke-dasharray="13,9"/>
<path d="M704.2,633.2l7.6,7.6M704.2,640.8l7.6,-7.6" stroke-width="2"/>
<path d="M718.2,633.2l7.6,7.6M718.2,640.8l7.6,-7.6" stroke-width="2"/>
<path d="M732.2,633.2l7.6,7.6M732.2,640.8l7.6,-7.6" stroke-width="2"/>
<text x="595" y="684" font-family="Liberation Sans" font-size="19" font-weight="bold" font-style="normal" text-anchor="start" stroke="none" fill="#000" >2</text>
<line x1="609.4" y1="655" x2="628.1" y2="676.9" stroke-width="4.5" stroke-linecap="round"/>
<line x1="618.8" y1="661.3" x2="637.5" y2="644.6" stroke-width="2" stroke-linecap="butt"/>
<path d="M616,664 L627,650 L632,656 Z" stroke="none" fill="#000"/>
<line x1="671.9" y1="729" x2="691.7" y2="753" stroke-width="4.5" stroke-linecap="round"/>
<line x1="688.6" y1="742.6" x2="706.8" y2="728" stroke-width="2" stroke-linecap="butt"/>
<path d="M686,745 L697,735 L700,742 Z" stroke="none" fill="#000"/>
<text x="707" y="762.4" font-family="Liberation Sans" font-size="19" font-weight="bold" font-style="normal" text-anchor="start" stroke="none" fill="#000" >2</text>
<text x="828" y="604.6" font-family="Liberation Sans" font-size="17" font-weight="bold" font-style="normal" text-anchor="start" stroke="none" fill="#000" >в)</text>
<path d="M853.2,610V727M853.2,740V746M853.2,750V770M853.2,780V813" stroke-width="2"/>
<path d="M1097.7,601.3V697M1097.7,710V720M1097.7,730V794.1" stroke-width="2"/>
<line x1="853.2" y1="621.1" x2="1097.7" y2="621.1" stroke-width="3.8" stroke-linecap="butt"/>
<line x1="853.2" y1="629" x2="1097.7" y2="629" stroke-width="5.1" stroke-linecap="butt"/>
<path d="M856,631v7.5M862.2,631v7.5M868.4,631v7.5M874.6,631v7.5M880.8,631v7.5M887,631v7.5M893.2,631v7.5M899.4,631v7.5M905.6,631v7.5M911.8,631v7.5M918,631v7.5M924.2,631v7.5M930.4,631v7.5M936.6,631v7.5M942.8,631v7.5M949,631v7.5M955.2,631v7.5M961.4,631v7.5M967.6,631v7.5M973.8,631v7.5M980,631v7.5" stroke-width="2.2"/>
<path d="M1075,631v7.5M1081.2,631v7.5M1087.4,631v7.5M1093.6,631v7.5" stroke-width="2.2"/>
<line x1="1060.5" y1="630" x2="1060.5" y2="792.8" stroke-width="3.9" stroke-linecap="butt"/>
<line x1="1069" y1="630" x2="1069" y2="792.8" stroke-width="5.2" stroke-linecap="butt"/>
<path d="M1059.6,789.8 Q1059.6,794.3 1065.1,794.3 Q1070.6,794.3 1070.6,789.8" stroke-width="2.4" fill="none"/>
<path d="M1059.1,702h-6.5M1059.1,708h-6.5M1059.1,714h-6.5M1059.1,720h-6.5M1059.1,726h-6.5M1059.1,732h-6.5M1059.1,738h-6.5M1059.1,744h-6.5M1059.1,750h-6.5M1059.1,756h-6.5M1059.1,762h-6.5M1059.1,768h-6.5M1059.1,774h-6.5M1059.1,780h-6.5M1059.1,786h-6.5" stroke-width="2.3"/>
<path d="M1071.1,639h5.7M1071.1,645h5.7M1071.1,651h5.7M1071.1,657h5.7M1071.1,663h5.7M1071.1,669h5.7M1071.1,675h5.7M1071.1,681h5.7M1071.1,687h5.7M1071.1,693h5.7M1071.1,699h5.7M1071.1,705h5.7M1071.1,711h5.7M1071.1,717h5.7M1071.1,723h5.7M1071.1,729h5.7M1071.1,735h5.7M1071.1,741h5.7M1071.1,747h5.7M1071.1,753h5.7M1071.1,759h5.7M1071.1,765h5.7M1071.1,771h5.7M1071.1,777h5.7M1071.1,783h5.7M1071.1,789h5.7" stroke-width="2.3"/>
<line x1="1058.6" y1="630" x2="1058.6" y2="702" stroke-width="4" stroke-linecap="butt"/>
<path d="M855,793.6H929.7M934.4,793.6H959.4M972,793.6H976M992.3,793.6H1097.7" stroke-width="2.6"/>
<path d="M851.9,776.2 L1032.8,643.8 L1037.4,650 L856.5,782.4 Z" stroke-width="4.4" fill="none" stroke-linejoin="miter" stroke-linecap="butt"/>
<path d="M855.2,762.8h11M860.7,757.3v11" stroke-width="2.8"/>
<path d="M858.7,771.1 L869.2,763.4 L861.9,761.9 Z" stroke="none" fill="#000"/>
<path d="M868.1,753.3h11M873.6,747.8v11" stroke-width="2.8"/>
<path d="M871.6,761.6 L882.1,753.9 L874.8,752.4 Z" stroke="none" fill="#000"/>
<path d="M896.3,732.7h11M901.8,727.2v11" stroke-width="2.8"/>
<path d="M899.9,740.9 L910.3,733.3 L903.1,731.8 Z" stroke="none" fill="#000"/>
<path d="M909.3,723.2h11M914.8,717.7v11" stroke-width="2.8"/>
<path d="M912.8,731.5 L923.3,723.8 L916,722.3 Z" stroke="none" fill="#000"/>
<path d="M921.4,714.3h11M926.9,708.8v11" stroke-width="2.8"/>
<path d="M924.9,722.6 L935.4,714.9 L928.1,713.5 Z" stroke="none" fill="#000"/>
<path d="M934.3,704.9h11M939.8,699.4v11" stroke-width="2.8"/>
<path d="M937.8,713.2 L948.3,705.5 L941,704 Z" stroke="none" fill="#000"/>
<path d="M964.9,682.5h11M970.4,677v11" stroke-width="2.8"/>
<path d="M968.4,690.7 L978.9,683.1 L971.7,681.6 Z" stroke="none" fill="#000"/>
<path d="M977,673.6h11M982.5,668.1v11" stroke-width="2.8"/>
<path d="M980.5,681.9 L991,674.2 L983.8,672.7 Z" stroke="none" fill="#000"/>
<path d="M988.3,665.3h11M993.8,659.8v11" stroke-width="2.8"/>
<path d="M991.8,673.6 L1002.3,665.9 L995.1,664.4 Z" stroke="none" fill="#000"/>
<path d="M1002.1,655.3h11M1007.6,649.8v11" stroke-width="2.8"/>
<path d="M1005.6,663.6 L1016.1,655.9 L1008.8,654.4 Z" stroke="none" fill="#000"/>
<path d="M864.3,780.3h11M869.8,774.8v11" stroke-width="2.8"/>
<path d="M861,779.3 L871.5,771.6 L868.6,781.2 Z" stroke="none" fill="#000"/>
<path d="M899.8,754.3h11M905.3,748.8v11" stroke-width="2.8"/>
<path d="M896.5,753.3 L907,745.6 L904.1,755.2 Z" stroke="none" fill="#000"/>
<path d="M912.7,744.8h11M918.2,739.3v11" stroke-width="2.8"/>
<path d="M909.4,743.8 L919.9,736.2 L917,745.7 Z" stroke="none" fill="#000"/>
<path d="M928.8,733h11M934.3,727.5v11" stroke-width="2.8"/>
<path d="M925.6,732 L936,724.4 L933.1,733.9 Z" stroke="none" fill="#000"/>
<path d="M941.8,723.6h11M947.3,718.1v11" stroke-width="2.8"/>
<path d="M938.5,722.6 L949,714.9 L946,724.5 Z" stroke="none" fill="#000"/>
<path d="M966.8,705.3h11M972.3,699.8v11" stroke-width="2.8"/>
<path d="M963.5,704.3 L974,696.6 L971.1,706.2 Z" stroke="none" fill="#000"/>
<path d="M981.3,694.6h11M986.8,689.1v11" stroke-width="2.8"/>
<path d="M978,693.6 L988.5,686 L985.6,695.5 Z" stroke="none" fill="#000"/>
<path d="M995.8,684h11M1001.3,678.5v11" stroke-width="2.8"/>
<path d="M992.5,683 L1003,675.3 L1000.1,684.9 Z" stroke="none" fill="#000"/>
<path d="M1012,672.2h11M1017.5,666.7v11" stroke-width="2.8"/>
<path d="M1008.7,671.2 L1019.2,663.5 L1016.3,673.1 Z" stroke="none" fill="#000"/>
<path d="M982.4,631 L982.4,645.6 L1000,663.8" stroke-width="2.8" fill="none" stroke-linejoin="miter" stroke-linecap="butt"/>
<path d="M1007.8,676.9 L1031.2,700.3 L1059.9,701.6" stroke-width="2.8" fill="none" stroke-linejoin="miter" stroke-linecap="butt"/>
<path d="M986,632.5l7,7M986,639.5l7,-7" stroke-width="2"/>
<path d="M1004.3,632.5l7,7M1004.3,639.5l7,-7" stroke-width="2"/>
<path d="M1018.6,632.5l7,7M1018.6,639.5l7,-7" stroke-width="2"/>
<path d="M1034.3,632.5l7,7M1034.3,639.5l7,-7" stroke-width="2"/>
<path d="M1049.9,648.5l7,7M1049.9,655.5l7,-7" stroke-width="2"/>
<path d="M1049.9,662.5l7,7M1049.9,669.5l7,-7" stroke-width="2"/>
<path d="M1049.9,677.5l7,7M1049.9,684.5l7,-7" stroke-width="2"/>
<path d="M1049.9,690.5l7,7M1049.9,697.5l7,-7" stroke-width="2"/>
<path d="M1045,632.6 L1056,643" stroke-width="3.5" fill="none" stroke-linejoin="miter" stroke-linecap="butt"/>
<path d="M1050,631 L1058.6,631 L1058.6,642 Z" stroke="none" fill="#000"/>
<text x="869.5" y="662" font-family="Liberation Sans" font-size="17" font-weight="bold" font-style="normal" text-anchor="start" stroke="none" fill="#000" >3</text>
<line x1="898" y1="632" x2="898" y2="665.5" stroke-width="2.4" stroke-linecap="butt"/>
<path d="M893.5,644.5 L898,649.5 L902.5,644.5 L900,659.5 L900.2,665.5 L895.8,665.5 L896,659.5 Z" stroke="none" fill="#000"/>
<line x1="890.1" y1="665.5" x2="921.9" y2="665.5" stroke-width="5.5" stroke-linecap="round"/>
<line x1="1132.2" y1="624" x2="1132.2" y2="663.8" stroke-width="2.4" stroke-linecap="butt"/>
<path d="M1127.7,642.8 L1132.2,647.8 L1136.7,642.8 L1134.2,657.8 L1134.4,663.8 L1130,663.8 L1130.2,657.8 Z" stroke="none" fill="#000"/>
<line x1="1112" y1="663.8" x2="1143.9" y2="663.8" stroke-width="5" stroke-linecap="round"/>
<text x="1151.5" y="656" font-family="Liberation Sans" font-size="19" font-weight="bold" font-style="normal" text-anchor="start" stroke="none" fill="#000" >3</text>
<text x="1042.8" y="820" font-family="Liberation Sans" font-size="17.5" font-weight="bold" font-style="normal" text-anchor="start" textLength="54" lengthAdjust="spacing" stroke="none" fill="#000" >3 – 3</text>
<line x1="1041.6" y1="828.6" x2="1100" y2="828.6" stroke-width="3.2" stroke-linecap="round"/>
<text x="240" y="848.3" font-family="Liberation Sans" font-size="19" font-weight="bold" font-style="normal" text-anchor="start" textLength="51" lengthAdjust="spacing" stroke="none" fill="#000" >1 – 1</text>
<line x1="237" y1="858" x2="298" y2="858" stroke-width="3.5" stroke-linecap="round"/>
<path d="M220.6,897.5V973" stroke-width="2"/>
<line x1="220.6" y1="912" x2="461" y2="912" stroke-width="3" stroke-linecap="butt"/>
<line x1="220.6" y1="919.6" x2="461" y2="919.6" stroke-width="3" stroke-linecap="butt"/>
<path d="M461,900V929.5" stroke-width="2.5"/>
<rect x="414.6" y="857.8" width="8" height="115" rx="2.5" stroke-width="2.8" fill="#fff"/>
<path d="M402,910 L413,899 L413,910 Z" stroke="none" fill="#000"/>
<path d="M424.5,899 L434,910 L424.5,910 Z" stroke="none" fill="#000"/>
<path d="M402,921.5 L413,921.5 L413,932 Z" stroke="none" fill="#000"/>
<path d="M424.5,921.5 L434,921.5 L424.5,932 Z" stroke="none" fill="#000"/>
<path d="M220.6,956 L400.6,956 L400.6,919" stroke-width="2.6" fill="none" stroke-linejoin="miter" stroke-linecap="butt"/>
<path d="M234.6,922.1l6.8,6.8M234.6,928.9l6.8,-6.8" stroke-width="2.2"/>
<path d="M252.6,922.1l6.8,6.8M252.6,928.9l6.8,-6.8" stroke-width="2.2"/>
<path d="M268.6,922.1l6.8,6.8M268.6,928.9l6.8,-6.8" stroke-width="2.2"/>
<path d="M335.6,922.1l6.8,6.8M335.6,928.9l6.8,-6.8" stroke-width="2.2"/>
<path d="M353.6,922.1l6.8,6.8M353.6,928.9l6.8,-6.8" stroke-width="2.2"/>
<path d="M371.6,922.1l6.8,6.8M371.6,928.9l6.8,-6.8" stroke-width="2.2"/>
<path d="M387.6,922.1l6.8,6.8M387.6,928.9l6.8,-6.8" stroke-width="2.2"/>
<text x="676" y="862.3" font-family="Liberation Sans" font-size="19" font-weight="bold" font-style="normal" text-anchor="start" textLength="53" lengthAdjust="spacing" stroke="none" fill="#000" >2 – 2</text>
<line x1="678" y1="872.3" x2="737" y2="872.3" stroke-width="3.5" stroke-linecap="round"/>
<path d="M623.1,856.8 L728.5,980.1 L723.9,983.9 L618.5,860.6 Z" stroke-width="2.8" fill="none" stroke-linejoin="miter" stroke-linecap="butt"/>
<path d="M608.7,954.7 L635,987.7 L686,944.7" stroke-width="9.5" fill="none" stroke-linejoin="miter" stroke-linecap="round"/>
<path d="M608.7,954.7 L635,987.7 L688,943" stroke="#fff" stroke-width="3.6" fill="none" stroke-linejoin="miter" stroke-linecap="round"/>
<path d="M674,937l6,6M674,943l6,-6" stroke-width="2"/>
<path d="M687,954l6,6M687,960l6,-6" stroke-width="2"/>
<path d="M906.3,840.6V927M906.3,936V989.6" stroke-width="2.2"/>
<line x1="906.3" y1="852" x2="1030.9" y2="852" stroke-width="3.2" stroke-linecap="butt"/>
<path d="M1030.9,852V975" stroke-width="2.8"/>
<line x1="906.3" y1="973.3" x2="1030.9" y2="973.3" stroke-width="3.2" stroke-linecap="butt"/>
<line x1="906.3" y1="909" x2="1121.3" y2="909" stroke-width="4.6" stroke-linecap="butt"/>
<line x1="906.3" y1="916.8" x2="1121.3" y2="916.8" stroke-width="4" stroke-linecap="butt"/>
<path d="M1121.3,897.6V922.8" stroke-width="2.6"/>
<rect x="1059.6" y="847.5" width="7" height="133" rx="2" stroke-width="3.4" fill="#fff"/>
<path d="M1048,907 L1059,896 L1059,907 Z" stroke="none" fill="#000"/>
<path d="M1067.5,896 L1078,907 L1067.5,907 Z" stroke="none" fill="#000"/>
<path d="M1048,919 L1059,919 L1059,930 Z" stroke="none" fill="#000"/>
<path d="M1067.5,919 L1078,919 L1067.5,930 Z" stroke="none" fill="#000"/>
<line x1="974" y1="880.9" x2="1058" y2="880.9" stroke-width="10.5" stroke-linecap="butt"/>
<line x1="977" y1="880.9" x2="1057" y2="880.9" stroke="#fff" stroke-width="2.2"/>
<line x1="976" y1="940.4" x2="1058" y2="940.4" stroke-width="8" stroke-linecap="butt"/>
<line x1="979" y1="940.4" x2="1057" y2="940.4" stroke="#fff" stroke-width="2"/>
<circle cx="967.4" cy="880.8" r="6.6" stroke-width="3.6" fill="#fff"/>
<circle cx="969.8" cy="942.4" r="6.6" stroke-width="3.6" fill="#fff"/>
<path d="M980.2,867.2l7.6,7.6M980.2,874.8l7.6,-7.6" stroke-width="3"/>
<path d="M994.2,867.2l7.6,7.6M994.2,874.8l7.6,-7.6" stroke-width="3"/>
<path d="M1008.2,867.2l7.6,7.6M1008.2,874.8l7.6,-7.6" stroke-width="3"/>
<path d="M1046.2,867.2l7.6,7.6M1046.2,874.8l7.6,-7.6" stroke-width="3"/>
<path d="M978.2,946.7l7.6,7.6M978.2,954.3l7.6,-7.6" stroke-width="3"/>
<path d="M992.2,946.7l7.6,7.6M992.2,954.3l7.6,-7.6" stroke-width="3"/>
<path d="M1006.2,946.7l7.6,7.6M1006.2,954.3l7.6,-7.6" stroke-width="3"/>
<path d="M1046.2,946.7l7.6,7.6M1046.2,954.3l7.6,-7.6" stroke-width="3"/>
<path d="M1047.2,887.2l7.6,7.6M1047.2,894.8l7.6,-7.6" stroke-width="3"/>
<path d="M1047.2,927.2l7.6,7.6M1047.2,934.8l7.6,-7.6" stroke-width="3"/>
<path d="M909.4,898.4l7.2,7.2M909.4,905.6l7.2,-7.2" stroke-width="2.8"/>
<path d="M922.4,898.4l7.2,7.2M922.4,905.6l7.2,-7.2" stroke-width="2.8"/>
<path d="M911.4,919.9l7.2,7.2M911.4,927.1l7.2,-7.2" stroke-width="2.8"/>
<path d="M927.4,919.9l7.2,7.2M927.4,927.1l7.2,-7.2" stroke-width="2.8"/>
<text x="215" y="1099" font-family="Liberation Sans" font-size="16" font-weight="bold" font-style="normal" text-anchor="start" stroke="none" fill="#000" >г)</text>
<text x="351.8" y="1084.4" font-family="Liberation Sans" font-size="21.5" font-weight="bold" font-style="normal" text-anchor="start" textLength="94.8" lengthAdjust="spacingAndGlyphs" stroke="none" fill="#000" >ДЕТАЛЬ</text>
<text x="457" y="1084.4" font-family="Liberation Sans" font-size="21.5" font-weight="bold" font-style="normal" text-anchor="start" textLength="14.1" lengthAdjust="spacingAndGlyphs" stroke="none" fill="#000" >Б</text>
<text x="484.7" y="1084.4" font-family="Liberation Sans" font-size="21.5" font-weight="bold" font-style="normal" text-anchor="start" textLength="145.4" lengthAdjust="spacingAndGlyphs" stroke="none" fill="#000" >(ВАРИАНТЫ)</text>
<path d="M223.5,1115V1194M223.5,1205V1217M223.5,1227V1309.9" stroke-width="2"/>
<path d="M466.5,1110V1310.7" stroke-width="2.2"/>
<line x1="223.5" y1="1122.2" x2="466.5" y2="1122.2" stroke-width="4.4" stroke-linecap="butt"/>
<line x1="223.5" y1="1129.1" x2="466.5" y2="1129.1" stroke-width="4.2" stroke-linecap="butt"/>
<path d="M226,1130.7v6.3M232.2,1130.7v6.3M238.4,1130.7v6.3M244.6,1130.7v6.3M250.8,1130.7v6.3M257,1130.7v6.3M263.2,1130.7v6.3M269.4,1130.7v6.3M275.6,1130.7v6.3M281.8,1130.7v6.3M288,1130.7v6.3M294.2,1130.7v6.3M300.4,1130.7v6.3M306.6,1130.7v6.3M312.8,1130.7v6.3M319,1130.7v6.3M325.2,1130.7v6.3M331.4,1130.7v6.3M337.6,1130.7v6.3M343.8,1130.7v6.3" stroke-width="2.2"/>
<path d="M430,1130.7v6.3M436.2,1130.7v6.3M442.4,1130.7v6.3M448.6,1130.7v6.3M454.8,1130.7v6.3M461,1130.7v6.3" stroke-width="2.2"/>
<line x1="411.7" y1="1131" x2="411.7" y2="1297.2" stroke-width="3.8" stroke-linecap="butt"/>
<line x1="419.9" y1="1131" x2="419.9" y2="1297.2" stroke-width="5.1" stroke-linecap="butt"/>
<path d="M410.8,1294.2 Q410.8,1298.7 416.1,1298.7 Q421.5,1298.7 421.5,1294.2" stroke-width="2.4" fill="none"/>
<path d="M410.3,1140h-6.5M410.3,1146h-6.5M410.3,1152h-6.5M410.3,1158h-6.5M410.3,1164h-6.5M410.3,1170h-6.5M410.3,1176h-6.5M410.3,1182h-6.5M410.3,1188h-6.5M410.3,1194h-6.5M410.3,1200h-6.5M410.3,1206h-6.5M410.3,1212h-6.5M410.3,1218h-6.5M410.3,1224h-6.5M410.3,1230h-6.5M410.3,1236h-6.5M410.3,1242h-6.5M410.3,1248h-6.5M410.3,1254h-6.5M410.3,1260h-6.5M410.3,1266h-6.5M410.3,1272h-6.5M410.3,1278h-6.5M410.3,1284h-6.5M410.3,1290h-6.5" stroke-width="2.2"/>
<path d="M422,1140h6.5M422,1146h6.5M422,1152h6.5M422,1158h6.5M422,1164h6.5M422,1170h6.5M422,1176h6.5M422,1182h6.5M422,1188h6.5M422,1194h6.5M422,1200h6.5M422,1206h6.5M422,1212h6.5M422,1218h6.5M422,1224h6.5M422,1230h6.5M422,1236h6.5M422,1242h6.5M422,1248h6.5M422,1254h6.5M422,1260h6.5M422,1266h6.5M422,1272h6.5M422,1278h6.5M422,1284h6.5M422,1290h6.5" stroke-width="2.2"/>
<path d="M398.8,1131 Q407.8,1133 409.8,1142 L413.6,1131 Z" stroke="none" fill="#000"/>
<path d="M433.5,1131 Q424.5,1133 422.5,1142 L417.4,1131 Z" stroke="none" fill="#000"/>
<path d="M224.3,1298H331.9M343.7,1298H348M368.3,1298H466.5" stroke-width="2.6"/>
<path d="M223,1280.9 L403.3,1143.6 L407.7,1149.4 L227.4,1286.7 Z" stroke-width="3.6" fill="none" stroke-linejoin="miter" stroke-linecap="butt"/>
<path d="M223.5,1226.9 L320.9,1153.2 L348.8,1184.5" stroke-width="3.1" fill="none" stroke-linejoin="miter" stroke-linecap="butt"/>
<path d="M345.4,1131 L345.4,1149.8 L408.1,1149.8" stroke-width="3.1" fill="none" stroke-linejoin="miter" stroke-linecap="butt"/>
<path d="M372.5,1149 L398,1149 L382,1160 Z" stroke="none" fill="#000"/>
<path d="M350.6,1132.1l6.6,6.6M350.6,1138.7l6.6,-6.6" stroke-width="2"/>
<path d="M362.4,1132.1l6.6,6.6M362.4,1138.7l6.6,-6.6" stroke-width="2"/>
<path d="M376.8,1132.1l6.6,6.6M376.8,1138.7l6.6,-6.6" stroke-width="2"/>
<path d="M390.4,1132.1l6.6,6.6M390.4,1138.7l6.6,-6.6" stroke-width="2"/>
<path d="M300.5,1188.8 L318.1,1195.6 L303.9,1205.6 Z" stroke-width="3.1" fill="none" stroke-linejoin="miter" stroke-linecap="butt"/>
<path d="M231,1242 L248.6,1248.8 L234.4,1258.8 Z" stroke-width="3.1" fill="none" stroke-linejoin="miter" stroke-linecap="butt"/>
<text x="583.7" y="1118" font-family="Liberation Sans" font-size="18" font-weight="bold" font-style="normal" text-anchor="start" stroke="none" fill="#000" >д)</text>
<path d="M613.8,1108.8V1200M613.8,1230V1301.3" stroke-width="2"/>
<path d="M898.1,1104.9V1306.2" stroke-width="2.2"/>
<line x1="613.8" y1="1120.5" x2="898.1" y2="1120.5" stroke-width="3.9" stroke-linecap="butt"/>
<line x1="613.8" y1="1127.3" x2="898.1" y2="1127.3" stroke-width="3.9" stroke-linecap="butt"/>
<path d="M616.8,1128.8v7.4M623,1128.8v7.4M629.2,1128.8v7.4M635.4,1128.8v7.4M641.6,1128.8v7.4M647.8,1128.8v7.4M654,1128.8v7.4M660.2,1128.8v7.4M666.4,1128.8v7.4M672.6,1128.8v7.4M678.8,1128.8v7.4M685,1128.8v7.4M691.2,1128.8v7.4M697.4,1128.8v7.4M703.6,1128.8v7.4M709.8,1128.8v7.4M716,1128.8v7.4M722.2,1128.8v7.4M728.4,1128.8v7.4M734.6,1128.8v7.4M740.8,1128.8v7.4M747,1128.8v7.4M753.2,1128.8v7.4M759.4,1128.8v7.4M765.6,1128.8v7.4M771.8,1128.8v7.4M778,1128.8v7.4M784.2,1128.8v7.4M790.4,1128.8v7.4M796.6,1128.8v7.4M802.8,1128.8v7.4M809,1128.8v7.4M815.2,1128.8v7.4M821.4,1128.8v7.4M827.6,1128.8v7.4M833.8,1128.8v7.4M840,1128.8v7.4M846.2,1128.8v7.4M852.4,1128.8v7.4M858.6,1128.8v7.4M864.8,1128.8v7.4M871,1128.8v7.4M877.2,1128.8v7.4M883.4,1128.8v7.4M889.6,1128.8v7.4M895.8,1128.8v7.4" stroke-width="2.2"/>
<line x1="857.1" y1="1129" x2="857.1" y2="1292.5" stroke-width="4" stroke-linecap="butt"/>
<line x1="865.5" y1="1129" x2="865.5" y2="1292.5" stroke-width="4.9" stroke-linecap="butt"/>
<path d="M856.1,1289.5 Q856.1,1294 861.5,1294 Q866.9,1294 866.9,1289.5" stroke-width="2.4" fill="none"/>
<path d="M855.6,1138h-7.5M855.6,1144h-7.5M855.6,1150h-7.5M855.6,1156h-7.5M855.6,1162h-7.5M855.6,1168h-7.5M855.6,1174h-7.5M855.6,1180h-7.5M855.6,1186h-7.5M855.6,1192h-7.5M855.6,1198h-7.5M855.6,1204h-7.5M855.6,1210h-7.5M855.6,1216h-7.5M855.6,1222h-7.5M855.6,1228h-7.5M855.6,1234h-7.5M855.6,1240h-7.5M855.6,1246h-7.5M855.6,1252h-7.5M855.6,1258h-7.5M855.6,1264h-7.5M855.6,1270h-7.5M855.6,1276h-7.5M855.6,1282h-7.5M855.6,1288h-7.5" stroke-width="2.2"/>
<path d="M867.4,1138h6.5M867.4,1144h6.5M867.4,1150h6.5M867.4,1156h6.5M867.4,1162h6.5M867.4,1168h6.5M867.4,1174h6.5M867.4,1180h6.5M867.4,1186h6.5M867.4,1192h6.5M867.4,1198h6.5M867.4,1204h6.5M867.4,1210h6.5M867.4,1216h6.5M867.4,1222h6.5M867.4,1228h6.5M867.4,1234h6.5M867.4,1240h6.5M867.4,1246h6.5M867.4,1252h6.5M867.4,1258h6.5M867.4,1264h6.5M867.4,1270h6.5M867.4,1276h6.5M867.4,1282h6.5M867.4,1288h6.5" stroke-width="2.2"/>
<path d="M844.1,1129 Q853.1,1131 855.1,1140 L859.1,1129 Z" stroke="none" fill="#000"/>
<path d="M878.9,1129 Q869.9,1131 867.9,1140 L863,1129 Z" stroke="none" fill="#000"/>
<path d="M614.8,1294.5H749.6M759.4,1294.5H762.3M775,1294.5H898" stroke-width="2.6"/>
<path d="M673.8,1293 L825.1,1179.7 L829.3,1185.3 L678,1298.6 Z" stroke-width="3.5" fill="none" stroke-linejoin="miter" stroke-linecap="butt"/>
<path d="M614.8,1283.7 L800.4,1147.9 L830.7,1183" stroke-width="3.1" fill="none" stroke-linejoin="miter" stroke-linecap="butt"/>
<path d="M784.6,1179 L803.6,1184.5 L788.6,1196 Z" stroke-width="3.1" fill="none" stroke-linejoin="miter" stroke-linecap="butt"/>
<path d="M745.5,1207.3 L764.5,1212.8 L749.5,1224.3 Z" stroke-width="3.1" fill="none" stroke-linejoin="miter" stroke-linecap="butt"/>
<path d="M673.2,1261 L692.2,1266.5 L677.2,1278 Z" stroke-width="3.1" fill="none" stroke-linejoin="miter" stroke-linecap="butt"/>
<text x="1157" y="1084.8" font-family="Liberation Sans" font-size="20.5" font-weight="normal" font-style="normal" text-anchor="start" textLength="32.1" lengthAdjust="spacingAndGlyphs" stroke="#000" stroke-width="0.7" fill="#000" >ПО</text>
<text x="1196.9" y="1084.8" font-family="Liberation Sans" font-size="20.5" font-weight="normal" font-style="normal" text-anchor="start" textLength="61.4" lengthAdjust="spacingAndGlyphs" stroke="#000" stroke-width="0.7" fill="#000" >ТИПУ</text>
<text x="952.4" y="1102" font-family="Liberation Sans" font-size="16" font-weight="bold" font-style="normal" text-anchor="start" stroke="none" fill="#000" >е)</text>
<path d="M983.2,1102.8V1205M983.2,1234V1299.8" stroke-width="2"/>
<path d="M1244.1,1092.7V1177M1244.1,1190V1197M1244.1,1208V1303.4" stroke-width="2.2"/>
<line x1="983.2" y1="1117.8" x2="1244.1" y2="1117.8" stroke-width="3.3" stroke-linecap="butt"/>
<line x1="983.2" y1="1125.2" x2="1244.1" y2="1125.2" stroke-width="4.7" stroke-linecap="butt"/>
<path d="M986,1127.1v6.5M992.2,1127.1v6.5M998.4,1127.1v6.5M1004.6,1127.1v6.5M1010.8,1127.1v6.5M1017,1127.1v6.5M1023.2,1127.1v6.5M1029.4,1127.1v6.5M1035.6,1127.1v6.5M1041.8,1127.1v6.5M1048,1127.1v6.5M1054.2,1127.1v6.5M1060.4,1127.1v6.5M1066.6,1127.1v6.5M1072.8,1127.1v6.5M1079,1127.1v6.5M1085.2,1127.1v6.5M1091.4,1127.1v6.5" stroke-width="2.2"/>
<path d="M1219,1127.1v6.5M1225.2,1127.1v6.5M1231.4,1127.1v6.5M1237.6,1127.1v6.5M1243.8,1127.1v6.5" stroke-width="2.2"/>
<line x1="1201.6" y1="1127" x2="1201.6" y2="1285.2" stroke-width="4.4" stroke-linecap="butt"/>
<line x1="1209.4" y1="1127" x2="1209.4" y2="1285.2" stroke-width="5.4" stroke-linecap="butt"/>
<path d="M1200.4,1282.2 Q1200.4,1286.7 1205.8,1286.7 Q1211.1,1286.7 1211.1,1282.2" stroke-width="2.4" fill="none"/>
<path d="M1199.9,1218h-7.5M1199.9,1224h-7.5M1199.9,1230h-7.5M1199.9,1236h-7.5M1199.9,1242h-7.5M1199.9,1248h-7.5M1199.9,1254h-7.5M1199.9,1260h-7.5M1199.9,1266h-7.5M1199.9,1272h-7.5M1199.9,1278h-7.5" stroke-width="2.2"/>
<path d="M1211.6,1136h6.5M1211.6,1142h6.5M1211.6,1148h6.5M1211.6,1154h6.5M1211.6,1160h6.5M1211.6,1166h6.5M1211.6,1172h6.5M1211.6,1178h6.5M1211.6,1184h6.5M1211.6,1190h6.5M1211.6,1196h6.5M1211.6,1202h6.5M1211.6,1208h6.5M1211.6,1214h6.5M1211.6,1220h6.5M1211.6,1226h6.5M1211.6,1232h6.5M1211.6,1238h6.5M1211.6,1244h6.5M1211.6,1250h6.5M1211.6,1256h6.5M1211.6,1262h6.5M1211.6,1268h6.5M1211.6,1274h6.5M1211.6,1280h6.5" stroke-width="2.2"/>
<line x1="1199.4" y1="1127" x2="1199.4" y2="1218" stroke-width="4" stroke-linecap="butt"/>
<path d="M1212.1,1127 L1224,1127 L1212.1,1139 Z" stroke="none" fill="#000"/>
<path d="M984,1286.6H1105.4M1116.4,1286.6H1121M1134.6,1286.6H1250.4" stroke-width="2.6"/>
<path d="M982.8,1285.5 L1165.3,1149.4 L1169.7,1155.2 L987.2,1291.3 Z" stroke-width="3.6" fill="none" stroke-linejoin="miter" stroke-linecap="butt"/>
<path d="M983.2,1239.6 L1088.1,1164.8 L1110,1188.5" stroke-width="3.1" fill="none" stroke-linejoin="miter" stroke-linecap="butt"/>
<path d="M1094.5,1127 L1094.5,1137.4 L1128.2,1175.7" stroke-width="3.1" fill="none" stroke-linejoin="miter" stroke-linecap="butt"/>
<path d="M1135.5,1183 L1171.1,1217.7 L1199,1219.5" stroke-width="3.1" fill="none" stroke-linejoin="miter" stroke-linecap="butt"/>
<path d="M1093,1127 L1102,1127 L1095,1139 Z" stroke="none" fill="#000"/>
<path d="M1115.6,1129.4l7,7M1115.6,1136.4l7,-7" stroke-width="2"/>
<path d="M1132,1129.4l7,7M1132,1136.4l7,-7" stroke-width="2"/>
<path d="M1146.6,1129.4l7,7M1146.6,1136.4l7,-7" stroke-width="2"/>
<path d="M1164.9,1129.4l7,7M1164.9,1136.4l7,-7" stroke-width="2"/>
<path d="M1191.3,1150.3l7,7M1191.3,1157.3l7,-7" stroke-width="2"/>
<path d="M1191.3,1166.8l7,7M1191.3,1173.8l7,-7" stroke-width="2"/>
<path d="M1191.3,1183.2l7,7M1191.3,1190.2l7,-7" stroke-width="2"/>
<path d="M1191.3,1199.6l7,7M1191.3,1206.6l7,-7" stroke-width="2"/>
<path d="M1184.8,1129.2 L1198.5,1142.9" stroke-width="3.5" fill="none" stroke-linejoin="miter" stroke-linecap="butt"/>
<path d="M1117.7,1172h10M1122.7,1167v10" stroke-width="2.8"/>
<path d="M1121.7,1181.5 L1132.1,1173.7 L1123.9,1171.1 Z" stroke="none" fill="#000"/>
<path d="M1129.7,1163h10M1134.7,1158v10" stroke-width="2.8"/>
<path d="M1133.7,1172.5 L1144.1,1164.7 L1135.9,1162.1 Z" stroke="none" fill="#000"/>
<path d="M1142.6,1153.4h10M1147.6,1148.4v10" stroke-width="2.8"/>
<path d="M1146.5,1162.9 L1157,1155.2 L1148.8,1152.5 Z" stroke="none" fill="#000"/>
<path d="M1156.2,1143.3h10M1161.2,1138.3v10" stroke-width="2.8"/>
<path d="M1160.2,1152.8 L1170.6,1145 L1162.4,1142.4 Z" stroke="none" fill="#000"/>
<path d="M1131.6,1187.2h10M1136.6,1182.2v10" stroke-width="2.8"/>
<path d="M1128.1,1186.7 L1138.5,1178.9 L1135.4,1188.1 Z" stroke="none" fill="#000"/>
<path d="M1142.8,1178.8h10M1147.8,1173.8v10" stroke-width="2.8"/>
<path d="M1139.3,1178.3 L1149.7,1170.5 L1146.6,1179.7 Z" stroke="none" fill="#000"/>
<path d="M1153.2,1171.1h10M1158.2,1166.1v10" stroke-width="2.8"/>
<path d="M1149.7,1170.5 L1160.1,1162.8 L1157,1172 Z" stroke="none" fill="#000"/>
<path d="M1164.4,1162.7h10M1169.4,1157.7v10" stroke-width="2.8"/>
<path d="M1160.9,1162.2 L1171.4,1154.4 L1168.2,1163.6 Z" stroke="none" fill="#000"/>
<path d="M1077.3,1183.2 L1096.3,1189.2 L1081.3,1201.2 Z" stroke-width="3.1" fill="none" stroke-linejoin="miter" stroke-linecap="butt"/>
<path d="M1046.3,1206.9 L1065.3,1212.9 L1050.3,1224.9 Z" stroke-width="3.1" fill="none" stroke-linejoin="miter" stroke-linecap="butt"/>
<path d="M993.4,1245.2 L1012.4,1251.2 L997.4,1263.2 Z" stroke-width="3.1" fill="none" stroke-linejoin="miter" stroke-linecap="butt"/>
<text x="995" y="1156.6" font-family="Liberation Sans" font-size="17" font-weight="normal" font-style="normal" text-anchor="start" stroke="none" fill="#000" >3</text>
<line x1="1017.9" y1="1128" x2="1017.9" y2="1162" stroke-width="2.4" stroke-linecap="butt"/>
<path d="M1013.4,1141 L1017.9,1146 L1022.4,1141 L1019.9,1156 L1020.1,1162 L1015.7,1162 L1015.9,1156 Z" stroke="none" fill="#000"/>
<line x1="1006.9" y1="1162" x2="1042.5" y2="1162" stroke-width="5" stroke-linecap="round"/>
<line x1="1276.7" y1="1125.6" x2="1276.7" y2="1160" stroke-width="2.4" stroke-linecap="butt"/>
<path d="M1272.2,1139 L1276.7,1144 L1281.2,1139 L1278.7,1154 L1278.9,1160 L1274.5,1160 L1274.7,1154 Z" stroke="none" fill="#000"/>
<line x1="1254.4" y1="1160" x2="1285.4" y2="1160" stroke-width="5" stroke-linecap="round"/>
<text x="1290" y="1152.6" font-family="Liberation Sans" font-size="21" font-weight="bold" font-style="normal" text-anchor="start" textLength="11.5" lengthAdjust="spacingAndGlyphs" stroke="none" fill="#000" >3</text>
<text x="343" y="587.5" font-family="Liberation Sans" font-size="22" font-weight="bold" font-style="normal" text-anchor="start" textLength="96" lengthAdjust="spacingAndGlyphs" stroke="none" fill="#000" >ДЕТАЛЬ</text>
<text x="447.8" y="587.5" font-family="Liberation Sans" font-size="22" font-weight="bold" font-style="normal" text-anchor="start" textLength="15.7" lengthAdjust="spacingAndGlyphs" stroke="none" fill="#000" >А</text>
<text x="477" y="587.5" font-family="Liberation Sans" font-size="22" font-weight="bold" font-style="normal" text-anchor="start" textLength="146" lengthAdjust="spacingAndGlyphs" stroke="none" fill="#000" >(ВАРИАНТЫ)</text>
</g>
<g transform="rotate(-0.29 170 1800)">
<text x="235.6" y="1539" font-family="Liberation Serif" font-size="35" letter-spacing="0.3" word-spacing="7.69" stroke="#000" stroke-width="0.45" fill="#000"><tspan font-weight="bold">3.12.</tspan> Если при увеличении нагрузок не обеспечена прочность стенки</text>
<text x="169" y="1582.7" font-family="Liberation Serif" font-size="35" letter-spacing="0.7" word-spacing="14.18" stroke="#000" stroke-width="0.45" fill="#000">по срезу или ее устойчивость, то рекомендуется установка дополни-</text>
<text x="169" y="1625.7" font-family="Liberation Serif" font-size="35" letter-spacing="0.7" word-spacing="20.85" stroke="#000" stroke-width="0.45" fill="#000">тельных поперечных, продольных или наклонных ребер жесткости.</text>
<text x="169" y="1669.4" font-family="Liberation Serif" font-size="35" letter-spacing="0.7" word-spacing="18.23" stroke="#000" stroke-width="0.45" fill="#000">Наклонные ребра жесткости (рис. 5) могут использоваться как без</text>
<text x="169" y="1713.7" font-family="Liberation Serif" font-size="35" letter-spacing="0.7" word-spacing="14.09" stroke="#000" stroke-width="0.45" fill="#000">пригонки к поясам балки, так и с пригонкой; в первом случае они</text>
<text x="169" y="1757.3" font-family="Liberation Serif" font-size="35" letter-spacing="0.7" word-spacing="10.76" stroke="#000" stroke-width="0.45" fill="#000">считаются не работающими на поперечную силу и служат только для</text>
<text x="169" y="1800.9" font-family="Liberation Serif" font-size="35" letter-spacing="0.7" word-spacing="8.41" stroke="#000" stroke-width="0.45" fill="#000">обеспечения местной устойчивости, во втором — значительно снижают</text>
<text x="170" y="1845.1" font-family="Liberation Serif" font-size="35" letter-spacing="1.15" word-spacing="8.15" stroke="#000" stroke-width="0.45" fill="#000">касательные напряжения в стенке.</text>
<text x="240.4" y="1889.3" font-family="Liberation Serif" font-size="35" letter-spacing="0.7" word-spacing="15.50" stroke="#000" stroke-width="0.45" fill="#000">При проверке дополнительных ребер рекомендуется использовать</text>
<text x="169" y="1934.3" font-family="Liberation Serif" font-size="35" letter-spacing="0.7" word-spacing="11.79" stroke="#000" stroke-width="0.45" fill="#000">одностороннее расположение ребер и швы минимального катета. Диа-</text>
<text x="169" y="1977" font-family="Liberation Serif" font-size="35" letter-spacing="0.7" word-spacing="14.45" stroke="#000" stroke-width="0.45" fill="#000">гональные ребра, пригнанные к поясам, рекомендуется проектировать</text>
<text x="169" y="2020.4" font-family="Liberation Serif" font-size="35" letter-spacing="0.7" word-spacing="13.06" stroke="#000" stroke-width="0.45" fill="#000">парными (двусторонними) из полосовой стали или уголков с крепле-</text>
<text x="169" y="2064.6" font-family="Liberation Serif" font-size="35" letter-spacing="0.7" word-spacing="13.75" stroke="#000" stroke-width="0.45" fill="#000">нием к полкам и вертикальным ребрам по типу схем <tspan font-style="italic">«в»</tspan> и <tspan font-style="italic">«е»</tspan> на</text>
<text x="169" y="2108" font-family="Liberation Serif" font-size="35" letter-spacing="0.5" word-spacing="11.20" stroke="#000" stroke-width="0.45" fill="#000">рис. 5 и устанавливать их вдоль сжатой диагонали отсека.</text>
<text x="462" y="1395.5" font-family="Liberation Serif" font-size="26" font-weight="bold" word-spacing="3.3" textLength="598" lengthAdjust="spacingAndGlyphs" stroke="#000" stroke-width="0.5" fill="#000">Рис. 5. Установка наклонных ребер жесткости</text>
<text x="413" y="1421" font-family="Liberation Serif" font-size="27" font-weight="normal" word-spacing="5.9" textLength="498" lengthAdjust="spacingAndGlyphs" stroke="#000" stroke-width="0.2" fill="#000"><tspan font-style="italic">а–д</tspan> — без пригонки к поясам: <tspan font-style="italic">б–г, е</tspan></text>
<text x="957" y="1419" font-family="Liberation Serif" font-size="27" font-weight="normal" word-spacing="5.9" textLength="150" lengthAdjust="spacingAndGlyphs" stroke="#000" stroke-width="0.2" fill="#000">с пригонкой</text>
</g>
<text x="1321.5" y="2195" font-family="Liberation Sans" font-size="36" font-weight="bold" font-style="normal" text-anchor="start" textLength="29" lengthAdjust="spacingAndGlyphs" stroke="none" fill="#000" >31</text>
</svg>
</body></html>
